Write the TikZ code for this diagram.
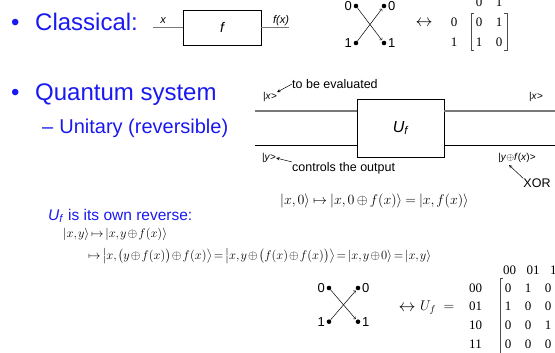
\documentclass[tikz,border=0pt]{standalone}
\usepackage{fix-cm}
\usepackage[no-math]{fontspec}
\setmainfont{Liberation Sans}
\newfontfamily\serifnum{Liberation Serif}
\usepackage{amsmath}
\usetikzlibrary{positioning}
\definecolor{slideblue}{RGB}{25,25,240}
\definecolor{wiregray}{RGB}{120,120,120}

\newcommand{\px}[1]{\fontsize{#1}{#1}\selectfont}
\newcommand{\tightmath}{\thinmuskip=1.5mu\medmuskip=1.5mu\thickmuskip=2.5mu}
\newcommand{\loosemath}{\thinmuskip=2.5mu\medmuskip=3mu\thickmuskip=4mu}

\tikzset{
  heading/.style={slideblue,font=\px{24},inner sep=0pt,anchor=base west},
  subheading/.style={slideblue,font=\px{20},inner sep=0pt,anchor=base west},
  gwire/.style={wiregray,line width=1.6pt},
  bwire/.style={black,line width=0.9pt},
  gatebox/.style={draw=black,line width=0.8pt,inner sep=0pt},
  tag/.style={font=\px{10},inner sep=0pt},
  note/.style={font=\px{12.5},inner sep=0pt},
  ptr/.style={-stealth,line width=0.5pt},
  pt/.style={circle,fill=black,inner sep=0pt,minimum size=4.6pt},
  digit/.style={font=\px{13},inner sep=0pt},
  num/.style={font=\px{13}\serifnum,inner sep=0pt},
  eqn/.style={font=\px{14}\loosemath,inner sep=0pt,anchor=west},
  smalleqn/.style={font=\px{12.5}\tightmath,inner sep=0pt,anchor=west},
  flip/.style={->,line width=0.5pt,shorten >=1pt},
  brack/.style={line width=0.6pt,black!70},
}

\begin{document}
\begin{tikzpicture}[x=1pt,y=-1pt]
  \useasboundingbox (0,0) rectangle (555,353);

  % classical
  \node[heading] (blt1) at (11,31) {\textbullet};
  \node[heading] (classical) at (35,31) {Classical:};
  \node[gatebox,minimum width=78pt,minimum height=35pt,font=\px{14}\itshape] (fbox) at (222,27.5) {f};
  \coordinate (fin) at (153,27.5);
  \coordinate (fout) at (289,27.5);
  \draw[gwire] (fin) -- (fbox.west);
  \draw[gwire] (fbox.east) -- (fout);
  \node[tag,font=\px{11}\itshape] (xlab) at (163,21) {x};
  \node[tag,font=\px{11}\itshape] (fxlab) at (281,21) {f(x)};

  % classical flip map
  \node[pt] (a0) at (356,6) {};
  \node[pt] (b0) at (384,6) {};
  \node[pt] (a1) at (356,43) {};
  \node[pt] (b1) at (384,43) {};
  \node[digit,left=1.5pt of a0] (ta0) {0};
  \node[digit,right=1.5pt of b0] (tb0) {0};
  \node[digit,left=1.5pt of a1] (ta1) {1};
  \node[digit,right=1.5pt of b1] (tb1) {1};
  \draw[flip] (a0) -- (b1);
  \draw[flip] (a1) -- (b0);
  \node[font=\px{17}] (lr1) at (424,23) {$\leftrightarrow$};

  % 2x2 matrix
  \node[num] (r0) at (454,22) {0};
  \node[num] (r1) at (454,42) {1};
  \node[num] (h0) at (479,2) {0};
  \node[num] (h1) at (499,2) {1};
  \foreach \r/\c/\v in {1/1/0,1/2/1,2/1/1,2/2/0}
    \node[num] (m\r\c) at ({459+20*\c},{2+20*\r}) {\v};
  \draw[brack] (474,13) -- (471,13) -- (471,50) -- (474,50);
  \draw[brack] (504,13) -- (507,13) -- (507,50) -- (504,50);

  % quantum
  \node[heading] (blt2) at (11,101) {\textbullet};
  \node[heading] (quantum) at (35,101) {Quantum system};
  \node[subheading] (unitary) at (42,133) {–\hspace{6pt}Unitary (reversible)};

  \node[gatebox,minimum width=87pt,minimum height=58pt,font=\px{16}\itshape] (uf) at (400.5,128) {U\textsubscript{f}};
  \coordinate (xin) at (255,111);
  \coordinate (xout) at (555,111);
  \coordinate (yin) at (255,145);
  \coordinate (yout) at (555,145);
  \draw[gwire] (xin) -- (xin -| uf.west);
  \draw[gwire] (xout -| uf.east) -- (xout);
  \draw[bwire] (yin) -- (yin -| uf.west);
  \draw[bwire] (yout -| uf.east) -- (yout);

  \node[tag] (xl) at (270,97) {|\textit{x}>};
  \node[tag] (xr) at (536,97) {|\textit{x}>};
  \node[tag] (yl) at (269,158) {|\textit{y}>};
  \node[tag] (yr) at (517,158) {|\textit{y}$\oplus$\textit{f}(\textit{x})>};
  \node[note,anchor=west] (tbe) at (292,84) {to be evaluated};
  \node[note,anchor=west] (cto) at (292,168) {controls the output};
  \node[note] (xor) at (537,183) {XOR};
  \coordinate (xorpt) at (509,165);
  \draw[ptr] (tbe.west) -- (xl.north east);
  \draw[ptr] (cto.north west) -- (yl.east);
  \draw[ptr] (xor.north west) -- (xorpt);

  % equations
  \node[eqn] (eq1) at (280,201)
    {$\left|x,0\right\rangle \mapsto \left|x,0\oplus f(x)\right\rangle = \left|x,f(x)\right\rangle$};
  \node[slideblue,font=\px{15.5},inner sep=0pt,anchor=west] (rev) at (48,216)
    {\textit{U}\textsubscript{\textit{f}} is its own reverse:};
  \node[smalleqn] (eq2) at (63,234.5)
    {$\left|x,y\right\rangle \mapsto \left|x,y\oplus f(x)\right\rangle$};
  \node[smalleqn] (eq3) at (88,256)
    {$\mapsto \left|x,\bigl(y\oplus f(x)\bigr)\oplus f(x)\right\rangle
      = \left|x,y\oplus\bigl(f(x)\oplus f(x)\bigr)\right\rangle
      = \left|x,y\oplus 0\right\rangle = \left|x,y\right\rangle$};

  % quantum flip map
  \node[pt] (c0) at (329,288) {};
  \node[pt] (d0) at (358,288) {};
  \node[pt] (c1) at (329,321.7) {};
  \node[pt] (d1) at (358,321.7) {};
  \node[digit,left=1.5pt of c0] (tc0) {0};
  \node[digit,right=1.5pt of d0] (td0) {0};
  \node[digit,left=1.5pt of c1] (tc1) {1};
  \node[digit,right=1.5pt of d1] (td1) {1};
  \draw[flip] (c0) -- (d1);
  \draw[flip] (c1) -- (d0);
  \node[font=\px{17}] (lr2) at (407,308) {$\leftrightarrow$};
  \node[font=\px{14},inner sep=0pt,anchor=west] (ufeq) at (420,308) {$U_f\;=$};

  % 4x4 matrix, cut by the page edge
  \foreach \lab [count=\r] in {00,01,10,11}
    \node[num] (s\r) at ({475.5},{269.3+18.7*\r}) {\lab};
  \foreach \lab [count=\c] in {00,01,10}
    \node[num] (t\c) at ({486+23.5*\c},270) {\lab};
  \foreach \r/\c/\v in {1/1/0,1/2/1,1/3/0,2/1/1,2/2/0,2/3/0,3/1/0,3/2/0,3/3/1,4/1/0,4/2/0,4/3/0}
    \node[num] (u\r\c) at ({488+20*\c},{269.3+18.7*\r}) {\v};
  \draw[brack] (503,278) -- (500,278) -- (500,360);
\end{tikzpicture}
\end{document}
